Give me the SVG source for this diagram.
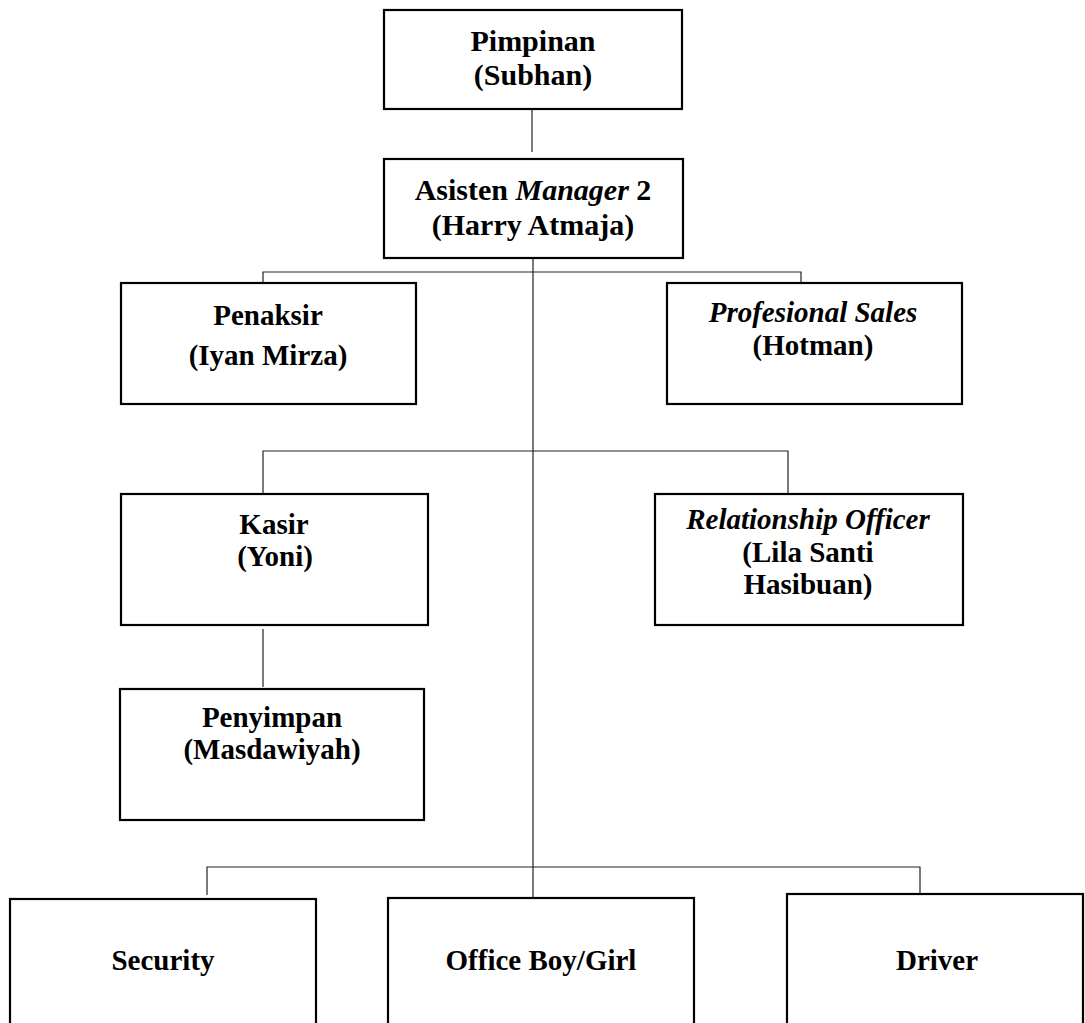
<svg xmlns="http://www.w3.org/2000/svg" width="1085" height="1023" viewBox="0 0 1085 1023">
<style>
.box{fill:#fff;stroke:#000;stroke-width:2.2}
.ln{fill:none;stroke:#222;stroke-width:1.2}
text{font-family:"Liberation Serif","Times New Roman",serif;font-weight:bold;font-size:29px;fill:#000;text-anchor:middle}
.big{font-size:30px}
.it{font-style:italic}
</style>
<rect width="1085" height="1023" fill="#fff"/>
<g id="connectors">
<line class="ln" x1="532" y1="110" x2="532" y2="152"/>
<line class="ln" x1="533" y1="259" x2="533" y2="898"/>
<polyline class="ln" points="263,283 263,272 801,272 801,283"/>
<polyline class="ln" points="263,494 263,451 788,451 788,494"/>
<line class="ln" x1="263" y1="629" x2="263" y2="687"/>
<polyline class="ln" points="207,895 207,867 920,867 920,894"/>
</g>
<g id="pimpinan">
<rect class="box" x="384" y="10" width="298" height="99"/>
<text class="big" x="533" y="51">Pimpinan</text>
<text class="big" x="533" y="85">(Subhan)</text>
</g>
<g id="asisten">
<rect class="box" x="384" y="159" width="299" height="99"/>
<text class="big" x="533" y="200">Asisten <tspan class="it">Manager</tspan> 2</text>
<text class="big" x="533" y="235">(Harry Atmaja)</text>
</g>
<g id="penaksir">
<rect class="box" x="121" y="283" width="295" height="121"/>
<text x="268" y="325">Penaksir</text>
<text x="268" y="365">(Iyan Mirza)</text>
</g>
<g id="profesional">
<rect class="box" x="667" y="283" width="295" height="121"/>
<text class="it" x="813" y="322">Profesional Sales</text>
<text x="813" y="355">(Hotman)</text>
</g>
<g id="kasir">
<rect class="box" x="121" y="494" width="307" height="131"/>
<text x="274" y="534">Kasir</text>
<text x="275" y="566">(Yoni)</text>
</g>
<g id="relationship">
<rect class="box" x="655" y="494" width="308" height="131"/>
<text class="it" x="808" y="529">Relationship Officer</text>
<text x="808" y="562">(Lila Santi</text>
<text x="808" y="594">Hasibuan)</text>
</g>
<g id="penyimpan">
<rect class="box" x="120" y="689" width="304" height="131"/>
<text x="272" y="727">Penyimpan</text>
<text x="272" y="759">(Masdawiyah)</text>
</g>
<g id="security">
<rect class="box" x="10" y="899" width="306" height="140"/>
<text x="163" y="970">Security</text>
</g>
<g id="officeboy">
<rect class="box" x="388" y="898" width="306" height="140"/>
<text x="541" y="970">Office Boy/Girl</text>
</g>
<g id="driver">
<rect class="box" x="787" y="894" width="296" height="145"/>
<text x="937" y="970">Driver</text>
</g>
</svg>
